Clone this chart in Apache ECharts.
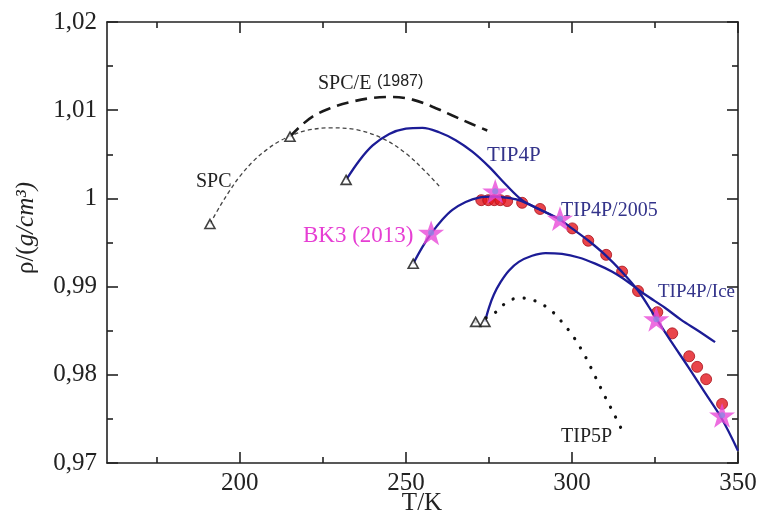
<!DOCTYPE html>
<html>
<head>
<meta charset="utf-8">
<script src="https://cdn.jsdelivr.net/npm/echarts/dist/echarts.min.js"></script>
<style>
html,body{margin:0;padding:0;background:#fff;}
#chart{width:758px;height:529px;}
</style>
</head>
<body>
<div id="chart"></div>
<script>
// ---- data (T in K, density in g/cm3) ----
const spc = [[191,0.9971],[194,0.9991],[197,1.0009],[200,1.0025],[204,1.0042],[208,1.0055],[212,1.0065],[216,1.0072],[220,1.0077],[227,1.0080],[235,1.0078],[243,1.0068],[250,1.0051],[256,1.0030],[260.5,1.0012]];
const spce = [[215.1,1.0070],[218,1.0081],[222,1.0093],[227,1.0102],[233,1.0109],[240,1.0114],[246,1.0115],[252,1.0112],[258,1.0104],[264,1.0094],[270,1.0084],[274.5,1.0077]];
const tip4p = [[232,1.0021],[236,1.0043],[240,1.0060],[245,1.0073],[250,1.0079],[255,1.0080],[260,1.0075],[265,1.0066],[270,1.0053],[275,1.0036],[280,1.0016],[285,0.9998],[290,0.9988],[296,0.9977]];
const tip4p2005 = [[252.2,0.9926],[255,0.9945],[257.6,0.9960],[261,0.9976],[264,0.9987],[268,0.9996],[272,1.0001],[276,1.0002],[280,1.0001],[284,0.9998],[290,0.9988],[296,0.9977],[300,0.9966],[305,0.9952],[310,0.9936],[315,0.9917],[320,0.9895],[325,0.9866],[330,0.9837],[335,0.9809],[340,0.9780],[345,0.9751],[350,0.9714]];
const tip4pIce = [[273.8,0.9860],[275,0.9876],[276.5,0.9891],[278.5,0.9905],[281,0.9918],[284,0.9928],[288,0.9935],[292,0.9938],[297,0.9937],[302,0.9933],[307,0.9926],[312,0.9917],[317,0.9905],[322,0.9891],[328,0.9876],[333,0.9862],[338,0.9850],[343.1,0.9837]];
const tip5p = [[271,0.9860],[276,0.9868],[281,0.9884],[285,0.9887],[288,0.9885],[291,0.9880],[294,0.9872],[296.5,0.9862],[298.5,0.9853],[300.5,0.9843],[304,0.9821],[307,0.9798],[310,0.9775],[313,0.9753],[316,0.9730]];
const experiment = [[272.7,0.9998],[274.8,0.9998],[276.6,0.9998],[278.4,0.9998],[280.5,0.9997],[285,0.9995],[290.4,0.9988],[300.1,0.9966],[304.9,0.9952],[310.3,0.9936],[315.1,0.9917],[319.9,0.9895],[325.7,0.9871],[330.2,0.9847],[335.3,0.9821],[337.7,0.9809],[340.4,0.9795],[345.2,0.9767],[350.3,0.9737]];
const bk3 = [[257.6,0.9961],[276.9,1.0008],[296.4,0.9977],[325.4,0.9863],[345.2,0.9754]];
const xMajorTicks = [200,250,300,350];
const xMinorTicks = [175,225,275,325];

const SERIF = '"Liberation Serif", "Times New Roman", serif';
const AXC = '#222';
const BLUE = '#1c1c96';
const STAR = 'path://M50,0 L61.8,35.1 L98.1,35.1 L68.8,56.8 L79.4,91.9 L50,70.3 L20.6,91.9 L31.2,56.8 L1.9,35.1 L38.2,35.1 Z';

function xAx(pos, ticks, len, withLine, withLabel) {
  return {
    type:'value', min:160, max:350, position:pos,
    axisLine:{show:withLine, lineStyle:{color:AXC,width:1.6}},
    axisTick:{show:true, inside:true, length:len, customValues:ticks, lineStyle:{color:AXC,width:1.6}},
    axisLabel:{show:withLabel, customValues:ticks, fontFamily:SERIF, fontSize:25, color:AXC, margin:8},
    splitLine:{show:false}
  };
}
function yAx(pos, withLabel) {
  return {
    type:'value', min:0.97, max:1.02, interval:0.01, position:pos,
    axisLine:{show:true, lineStyle:{color:AXC,width:1.6}},
    axisTick:{show:true, inside:true, length:11, lineStyle:{color:AXC,width:1.6}},
    minorTick:{show:true, splitNumber:2, length:6, lineStyle:{color:AXC,width:1.6}},
    axisLabel:{show:withLabel, fontFamily:SERIF, fontSize:25, color:AXC, margin:10,
      formatter:function(v){ return Math.abs(v-1)<1e-9 ? '1' : v.toFixed(2).replace('.',','); }},
    splitLine:{show:false}
  };
}
function curve(data, ls, z) {
  return {type:'line', data:data, showSymbol:false, smooth:0.35, lineStyle:ls, z:z, silent:true, xAxisIndex:0, yAxisIndex:0};
}
function lbl(text, x, y, size, color, family) {
  return {type:'text', x:x, y:y, z:100, style:{text:text, font:size+'px '+(family||SERIF), fill:color, align:'left', verticalAlign:'middle'}};
}

const chart = echarts.init(document.getElementById('chart'), null, {renderer:'canvas'});
chart.setOption({
  animation:false,
  backgroundColor:'#fff',
  grid:{left:107, right:20, top:22, bottom:66, outerBoundsMode:'none'},
  xAxis:[
    xAx('bottom', xMajorTicks, 11, true, true),
    xAx('bottom', xMinorTicks, 6, false, false),
    xAx('top', xMajorTicks, 11, true, false),
    xAx('top', xMinorTicks, 6, false, false)
  ],
  yAxis:[ yAx('left', true), yAx('right', false) ],
  series:[
    {type:'scatter', data:experiment, symbol:'circle', symbolSize:11, z:2,
      itemStyle:{color:'#e3161e', borderColor:'#a8101a', borderWidth:1}},
    curve(spc, {color:'#444', width:1.3, type:[4,3]}, 3),
    curve(spce, {color:'#1a1a1a', width:2.6, type:[12,7]}, 3),
    curve(tip4p, {color:BLUE, width:2.3}, 3),
    curve(tip4p2005, {color:BLUE, width:2.3}, 3),
    curve(tip4pIce, {color:BLUE, width:2.3}, 3),
    curve(tip5p, {color:'#111', width:3.2, type:[0.1,11], cap:'round'}, 3),
    {type:'scatter', data:[spc[0], spce[0], tip4p[0], tip4p2005[0], tip4pIce[0], tip5p[0]],
      symbol:'triangle', symbolSize:[10,9], z:4,
      itemStyle:{color:'#fff', borderColor:'#111', borderWidth:1.6}},
    {type:'scatter', data:bk3, symbol:STAR, symbolKeepAspect:true, symbolSize:26, z:5,
      itemStyle:{color:'#e84ad8'}},
    {type:'scatter', data:bk3, symbol:'circle', symbolSize:6, z:6,
      itemStyle:{color:'#8c86e2'}}
  ],
  graphic:[
    lbl('SPC/E', 318, 84, 20, '#222'),
    lbl('(1987)', 377, 82, 16, '#222', '"Liberation Sans", Arial, sans-serif'),
    lbl('SPC', 196, 182, 20, '#222'),
    lbl('TIP4P', 487, 155, 21, '#33338a'),
    lbl('TIP4P/2005', 561, 211, 20, '#33338a'),
    lbl('BK3 (2013)', 303, 236, 23, '#e63ed3'),
    lbl('TIP4P/Ice', 658, 292, 19, '#33338a'),
    lbl('TIP5P', 561, 437, 20, '#222'),
    {type:'text', x:422, y:503, z:100, style:{text:'T/K', font:'25px '+SERIF, fill:AXC, align:'center', verticalAlign:'middle'}},
    {type:'text', x:26, y:228, rotation:Math.PI/2, z:100,
      style:{text:'{a|ρ/(}{b|g/cm³)}', align:'center', verticalAlign:'middle',
        rich:{a:{fontFamily:SERIF, fontSize:25, fill:AXC}, b:{fontFamily:SERIF, fontSize:25, fontStyle:'italic', fill:AXC}}}}
  ]
});
</script>
</body>
</html>
